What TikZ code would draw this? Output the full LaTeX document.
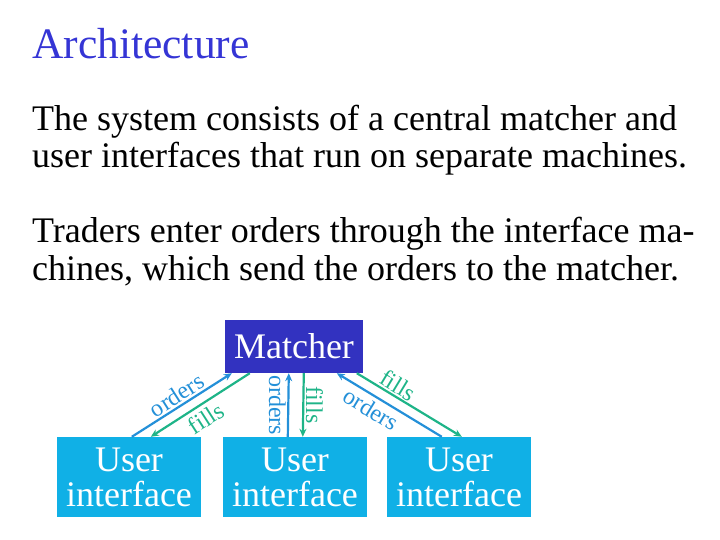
\documentclass[tikz,border=0pt]{standalone}
\usepackage{fontspec}
\setmainfont{Liberation Serif}
\usetikzlibrary{arrows.meta,calc}
\definecolor{titleblue}{HTML}{3535D5}
\definecolor{matcherblue}{HTML}{3232C0}
\definecolor{uicyan}{HTML}{10B0E6}
\definecolor{ordblue}{HTML}{2490D8}
\definecolor{fillgreen}{HTML}{1EB488}
\begin{document}
\begin{tikzpicture}[x=1pt,y=1pt,
  bodytext/.style={anchor=base west,inner sep=0pt,font=\fontsize{36}{37}\selectfont},
  matcherbox/.style={fill=matcherblue,text=white,minimum width=138pt,minimum height=53pt,inner sep=0pt,font=\fontsize{36}{36}\selectfont},
  uibox/.style={fill=uicyan,text=white,minimum width=144pt,minimum height=80pt,inner sep=0pt,align=center,font=\fontsize{36}{35}\selectfont},
  ordline/.style={draw=ordblue,line width=2.2pt,-{Stealth[length=8pt,width=7pt]}},
  filline/.style={draw=fillgreen,line width=2.2pt,-{Stealth[length=8pt,width=7pt]}},
  revtip/.style={{Stealth[length=8pt,width=7pt]}-},
  ordlab/.style={text=ordblue,inner sep=1.5pt,font=\fontsize{24}{24}\selectfont},
  fillab/.style={text=fillgreen,inner sep=1.5pt,font=\fontsize{24}{24}\selectfont}]
\useasboundingbox (0,0) rectangle (720,-540);
\node[anchor=base west,inner sep=0pt,text=titleblue,font=\fontsize{43.5}{44}\selectfont] (title) at (32,-59) {Architecture};
\node[bodytext] (p1a) at (32,-131) {The system consists of a central matcher and};
\node[bodytext] (p1b) at (32,-168) {user interfaces that run on separate machines.};
\node[bodytext] (p2a) at (32,-243) {Traders enter orders through the interface ma-};
\node[bodytext] (p2b) at (32,-280) {chines, which send the orders to the matcher.};
\node[matcherbox] (M) at (294,-346.5) {Matcher};
\node[uibox] (U1) at (129,-477) {User\\interface};
\node[uibox] (U2) at (295,-477) {User\\interface};
\node[uibox] (U3) at (459,-477) {User\\interface};
% left
\draw[ordline] ([xshift=75pt]U1.north west) -- node[ordlab,sloped,above,pos=0.51]{orders} ([xshift=7pt]M.south west);
\draw[filline,revtip] ([xshift=94pt]U1.north west) -- node[fillab,sloped,below=3pt,pos=0.48]{fills} ([xshift=25pt]M.south west);
% middle
\draw[ordline,revtip] ([xshift=64pt]M.south west) -- node[ordlab,rotate=-90,anchor=north,pos=0.5]{orders} ([xshift=65pt]U2.north west);
\draw[filline] ([xshift=79pt]M.south west) -- node[fillab,rotate=-90,anchor=south,pos=0.5]{fills} ([xshift=80pt]U2.north west);
% right
\draw[ordline,revtip] ([xshift=112pt]M.south west) -- node[ordlab,sloped,below=2pt,pos=0.39]{orders} ([xshift=55pt]U3.north west);
\draw[filline] ([xshift=132pt]M.south west) -- node[fillab,sloped,above,pos=0.34]{fills} ([xshift=75pt]U3.north west);
\end{tikzpicture}
\end{document}
